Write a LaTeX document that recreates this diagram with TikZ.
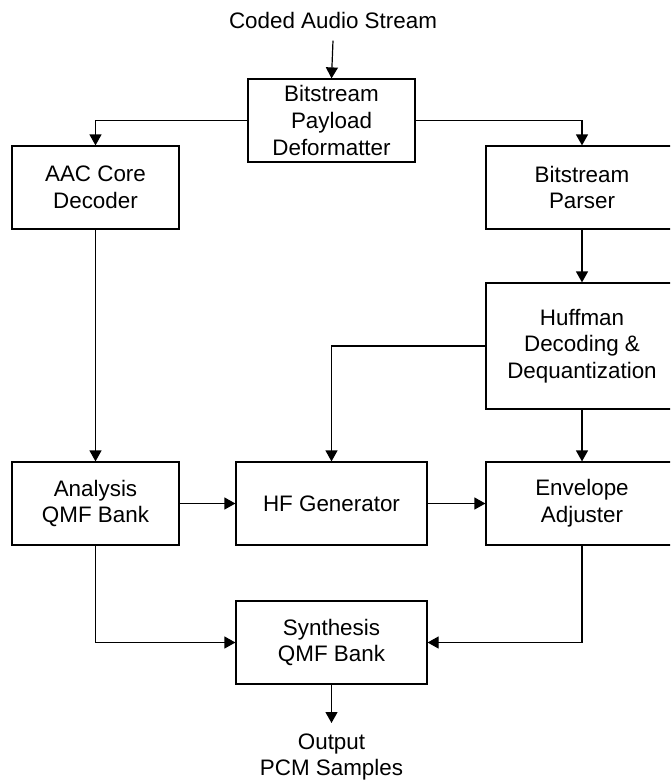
\documentclass[tikz,border=0pt]{standalone}
\usepackage{fontspec}
\setmainfont{Liberation Sans}
\usetikzlibrary{arrows.meta}

\begin{document}
\begin{tikzpicture}[x=0.5pt,y=-0.5pt,>={Triangle[width=6pt,length=5.5pt]},
  every node/.style={font=\fontsize{11.2}{13.35}\selectfont, align=center},
  blk/.style={draw, line width=0.6pt, inner sep=0pt, minimum height=41.5pt},
  narrow/.style={blk, minimum width=83.5pt},
  wide/.style={blk, minimum width=96pt},
  link/.style={->, line width=0.6pt}]
\clip (0,0) rectangle (670,782);
\node[inner sep=0pt, inner ysep=6pt] (input) at (333,20) {Coded Audio Stream};
\node[narrow] (deform) at (331.5,120.5) {Bitstream\\Payload\\Deformatter};
\node[narrow] (aac) at (95.5,187.5) {AAC Core\\Decoder};
\node[wide] (parser) at (582,187.5) {Bitstream\\Parser};
\node[wide, minimum height=63pt] (huff) at (582,346) {Huffman\\Decoding \&\\Dequantization};
\node[narrow] (analysis) at (95.5,503.5) {Analysis\\QMF Bank};
\node[wide, minimum width=95.5pt] (hfgen) at (331.5,503.5) {HF Generator};
\node[wide] (envadj) at (582,503.5) {Envelope\\Adjuster};
\node[wide, minimum width=95.5pt] (synth) at (331.5,642.5) {Synthesis\\QMF Bank};
\node[anchor=north, inner sep=0pt, inner ysep=5pt] (output) at (331.5,723) {Output\\PCM Samples};
\draw[link] (input.south) -- (deform.north);
\draw[link] (deform.west) -| (aac.north);
\draw[link] (deform.east) -| (parser.north);
\draw[link] (aac.south) -- (analysis.north);
\draw[link] (parser.south) -- (huff.north);
\draw[link] (huff.west) -| (hfgen.north);
\draw[link] (huff.south) -- (envadj.north);
\draw[link] (analysis.east) -- (hfgen.west);
\draw[link] (hfgen.east) -- (envadj.west);
\draw[link] (analysis.south) |- (synth.west);
\draw[link] (envadj.south) |- (synth.east);
\draw[link] (synth.south) -- (output.north);
\end{tikzpicture}
\end{document}
